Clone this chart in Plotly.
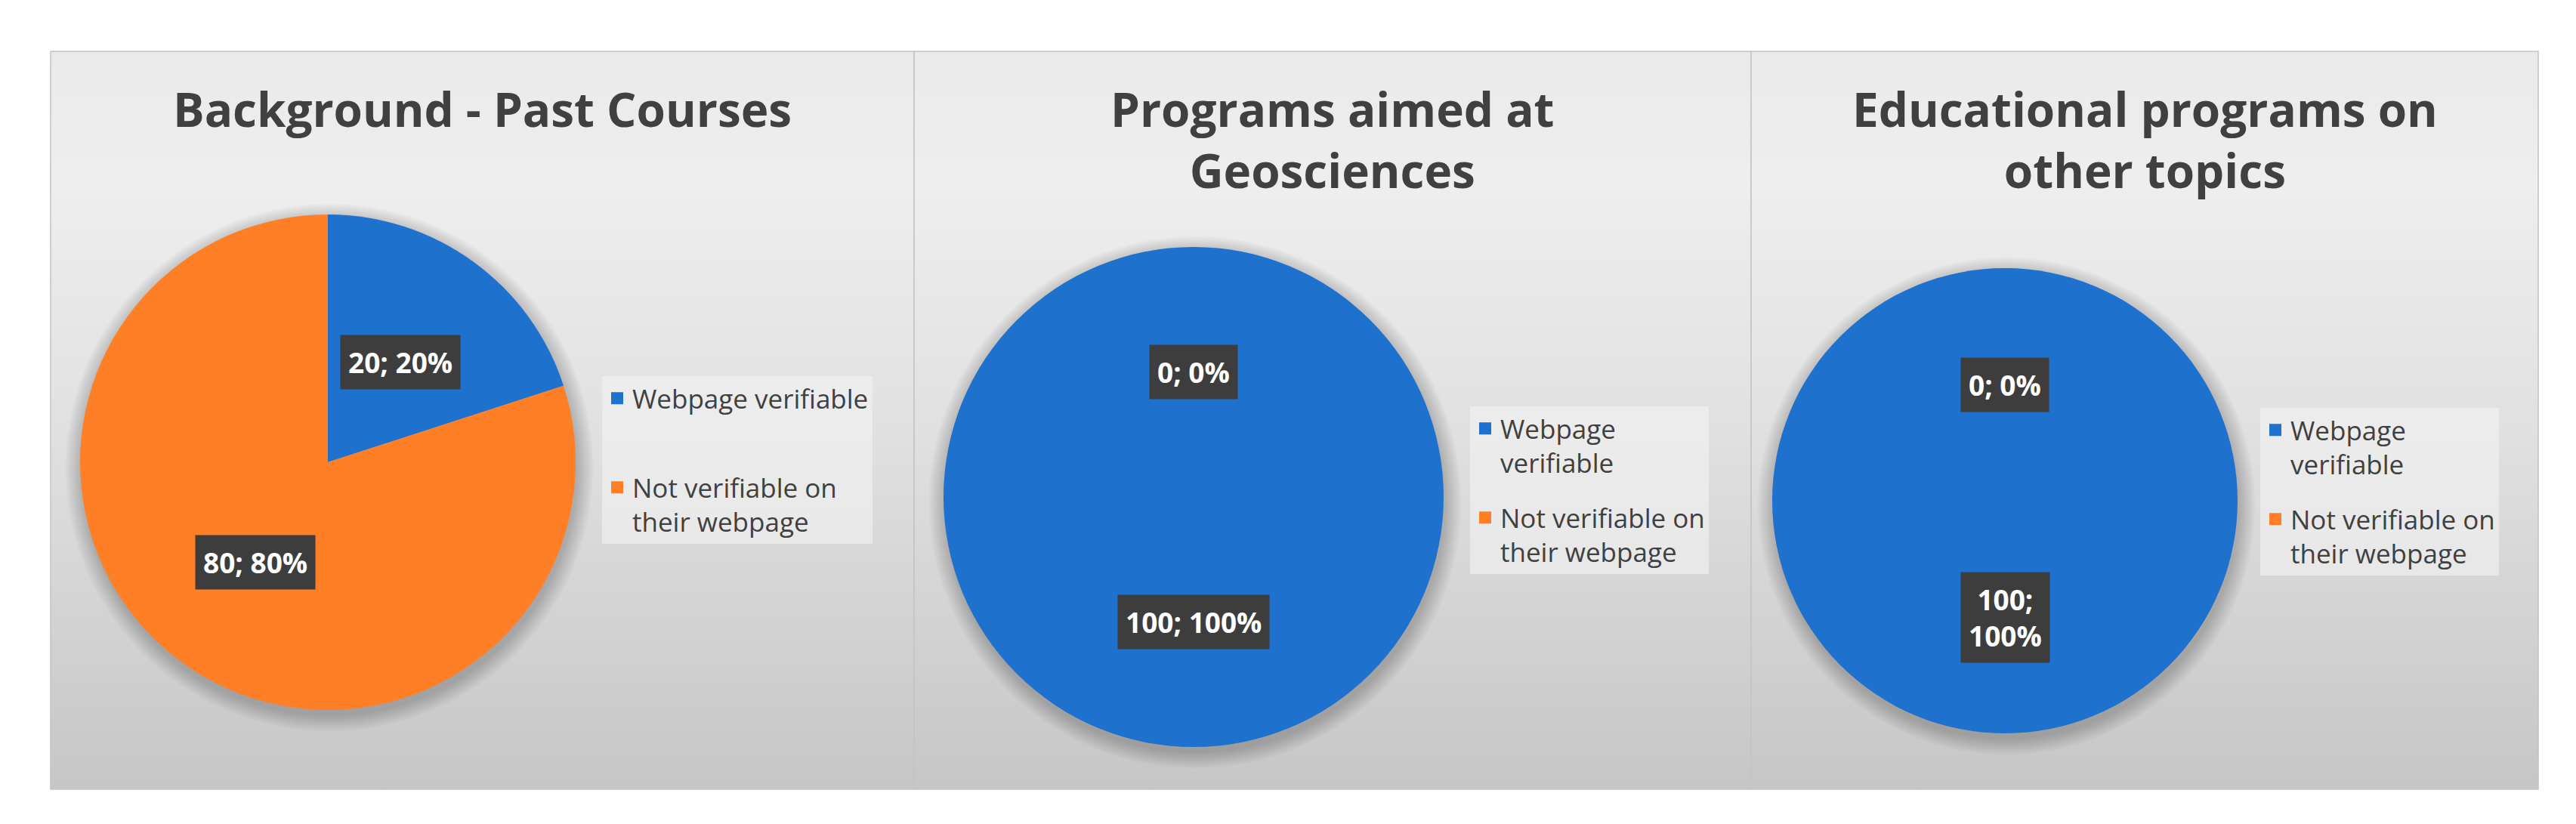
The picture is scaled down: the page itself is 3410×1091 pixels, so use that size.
import textwrap

import numpy as np
import plotly.graph_objects as go

W, H = 3410, 1091

# data
CATEGORIES = ["Webpage verifiable", "Not verifiable on their webpage"]
PAST_COURSES = [20, 80]
GEOSCIENCES = [100, 0]
OTHER_TOPICS = [100, 0]
TITLES = [
    "Background - Past Courses",
    "Programs aimed at<br>Geosciences",
    "Educational programs on<br>other topics",
]

# styling / layout (pixels)
COLORS = ["#1E71CD", "#FF7F27"]
FONT = "Open Sans"
TEXT = "#404040"
TOP, BOTTOM = 60, 1037
BG_SCALE = [[0, "#eaeaea"], [0.18, "#eeeeee"], [0.5, "#e1e1e1"],
            [0.8, "#d1d1d1"], [1, "#c6c6c6"]]
# wrap = legend text width in chars, lab = data label width in chars
PANELS = [
    dict(x0=59, x1=1202, cx=426, cy=604, r=328, leg=(789, 490), wrap=18, lab=12),
    dict(x0=1202, x1=2310, cx=1572, cy=650, r=331, leg=(1938, 530), wrap=17, lab=12),
    dict(x0=2310, x1=3352, cx=2646, cy=655, r=308, leg=(2984, 532), wrap=17, lab=7),
]


def legend_labels(cats, width):
    """Wrap legend text like Excel does and pad entries to equal line count."""
    lines = [textwrap.wrap(c, width) for c in cats]
    n = max(len(l) for l in lines)
    return ["<br>".join(l + ["&nbsp;"] * (n - len(l))) for l in lines]


fig = go.Figure()
annotations = []
t = np.linspace(0, 2 * np.pi, 181)

for i, (p, vals, title) in enumerate(zip(PANELS, [PAST_COURSES, GEOSCIENCES, OTHER_TOPICS], TITLES)):
    x0, x1, cx, cy, r = p["x0"], p["x1"], p["cx"], p["cy"], p["r"]
    legend_key = "legend" if i == 0 else f"legend{i + 1}"

    # chart area with gradient fill
    fig.add_trace(go.Scatter(
        x=[x0, x1, x1, x0, x0], y=[TOP, TOP, BOTTOM, BOTTOM, TOP],
        mode="lines", fill="toself",
        fillgradient=dict(type="vertical", colorscale=BG_SCALE, start=TOP, stop=BOTTOM),
        line=dict(color="#c4c4c4", width=1.5),
        hoverinfo="skip", showlegend=False,
    ))

    # soft shadow under the pie
    for k in range(9):
        rr = r + 1 + 2.5 * k
        fig.add_trace(go.Scatter(
            x=cx + 2 + rr * np.sin(t), y=cy + 7 + rr * np.cos(t),
            mode="none", fill="toself", fillcolor="rgba(0,0,0,0.022)",
            hoverinfo="skip", showlegend=False,
        ))

    fig.add_trace(go.Pie(
        labels=CATEGORIES,
        values=vals,
        marker=dict(colors=COLORS, line=dict(width=0)),
        sort=False, direction="clockwise", rotation=0,
        textinfo="none", showlegend=False,
        domain=dict(x=[(cx - r) / W, (cx + r) / W], y=[1 - (cy + r) / H, 1 - (cy - r) / H]),
    ))

    # legend entries (pie legends drop zero-value slices, Excel keeps them)
    for j, (name, color) in enumerate(zip(legend_labels(CATEGORIES, p["wrap"]), COLORS)):
        fig.add_trace(go.Scatter(
            x=[None], y=[None], mode="markers", name=name,
            marker=dict(symbol="square", size=16, color=color),
            legend=legend_key, legendgroup=f"{legend_key}-{j}", hoverinfo="skip",
        ))

    lx, ly = p["leg"]
    fig.update_layout({legend_key: dict(
        x=lx / W, y=1 - ly / H, xanchor="left", yanchor="top",
        bgcolor="rgba(243,243,243,0.6)", borderwidth=0, valign="top",
        tracegroupgap=24,
        font=dict(family=FONT, size=35, color=TEXT),
    )})

    # title
    annotations.append(dict(
        x=(x0 + x1) / 2, y=92, xref="x", yref="y", yanchor="top",
        text=f"<b>{title}</b>", showarrow=False,
        font=dict(family=FONT, size=62, color=TEXT),
    ))

    # data labels: "value; percent" in dark boxes at half radius
    total = sum(vals)
    cum = 0.0
    for v in vals:
        frac = v / total
        mid = (cum + frac / 2) * 2 * np.pi
        cum += frac
        txt = "<br>".join(textwrap.wrap(f"{v}; {round(frac * 100)}%", p["lab"]))
        annotations.append(dict(
            x=cx + 0.5 * r * np.sin(mid), y=cy - 0.5 * r * np.cos(mid),
            xref="x", yref="y", text=f"<b>{txt}</b>", showarrow=False,
            font=dict(family=FONT, size=37, color="white"),
            bgcolor="#3d3d3d", borderpad=10,
        ))

fig.update_layout(
    width=W, height=H,
    margin=dict(l=0, r=0, t=0, b=0),
    paper_bgcolor="white", plot_bgcolor="rgba(0,0,0,0)",
    xaxis=dict(range=[0, W], visible=False, fixedrange=True),
    yaxis=dict(range=[H, 0], visible=False, fixedrange=True),
    annotations=annotations,
    showlegend=True,
)

fig.write_html("out.html")
